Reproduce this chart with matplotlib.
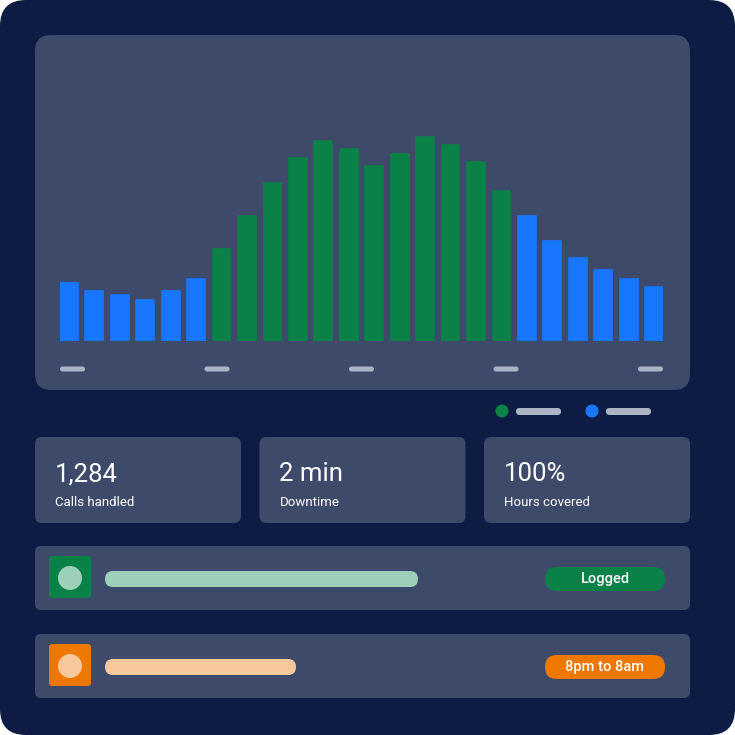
import numpy as np
import matplotlib
import matplotlib.pyplot as plt
from matplotlib.patches import FancyBboxPatch, Circle

matplotlib.use('Agg')
plt.rcParams['font.family'] = ['Roboto', 'DejaVu Sans']

# hourly call volume (midnight .. 23h)
hours = np.arange(24)
calls = [58, 50, 46, 41, 50, 62, 92, 125, 158, 183, 200, 192,
         175, 187, 204, 196, 179, 150, 125, 100, 83, 71, 62, 54]
staffed = [False] * 6 + [True] * 12 + [False] * 6

stat_values = ['1,284', '2 min', '100%']
stat_labels = ['Calls handled', 'Downtime', 'Hours covered']
badges = ['Logged', '8pm to 8am']

navy = '#0e1c45'
panel = '#3d4a6a'
blue = '#1877ff'
green = '#0a8247'
orange = '#ee7700'
grey = '#aab4c4'


def rbox(ax, x, y, w, h, r, color, z=1):
    ax.add_patch(FancyBboxPatch((x, y), w, h,
                                boxstyle=f'round,pad=0,rounding_size={r}',
                                fc=color, ec='none', zorder=z))


fig = plt.figure(figsize=(7.35, 7.35), dpi=100, facecolor='white')
bg = fig.add_axes([0, 0, 1, 1], zorder=0)
bg.set_xlim(0, 735)
bg.set_ylim(735, 0)
bg.axis('off')

rbox(bg, 0, 0, 735, 735, 26, navy, 0)
rbox(bg, 35, 35, 655, 355, 16, panel)

# x-axis dashes
for cx in np.linspace(72.5, 650.5, 5):
    rbox(bg, cx - 12.5, 366.5, 25, 5, 2.5, grey, 2)

# legend
for cx, c in [(502, green), (592, blue)]:
    bg.add_patch(Circle((cx, 411), 6.5, fc=c, ec='none', zorder=2))
    rbox(bg, cx + 14, 408, 45, 7, 3.5, grey, 2)

# stat cards
for i, (v, lab) in enumerate(zip(stat_values, stat_labels)):
    x0 = 35 + i * 224.5
    rbox(bg, x0, 437, 206, 86, 7, panel)
    bg.text(x0 + 20, 474, v, color='white', fontsize=18.5, va='center',
            ha='left')
    bg.text(x0 + 20, 502, lab, color='white', fontsize=9.5, va='center',
            ha='left')

# activity rows
rows = [(546, green, '#9dd0b8', 313, badges[0]),
        (634, orange, '#f7c89b', 191, badges[1])]
for y0, dark, light, plen, txt in rows:
    rbox(bg, 35, y0, 655, 64, 6, panel)
    rbox(bg, 49, y0 + 10, 42, 42, 3, dark, 2)
    bg.add_patch(Circle((70, y0 + 32), 12, fc=light, ec='none', zorder=3))
    rbox(bg, 105, y0 + 25, plen, 16, 8, light, 2)
    rbox(bg, 545, y0 + 21, 120, 24, 12, dark, 2)
    bg.text(605, y0 + 33.5, txt, color='white', fontsize=10.5,
            fontweight='medium', ha='center', va='center', zorder=4)

# bar chart
ax = fig.add_axes([60 / 735, (735 - 341) / 735, 603 / 735, 220 / 735],
                  zorder=1)
ax.set_facecolor('none')
colors = [green if s else blue for s in staffed]
ax.bar(hours, calls, width=0.7, color=colors, edgecolor=colors,
       linewidth=1.2, joinstyle='round')
ax.set_xlim(-0.35, 23.35)
ax.set_ylim(0, 220)
ax.axis('off')

fig.savefig('out.png', dpi=100, facecolor='white')
